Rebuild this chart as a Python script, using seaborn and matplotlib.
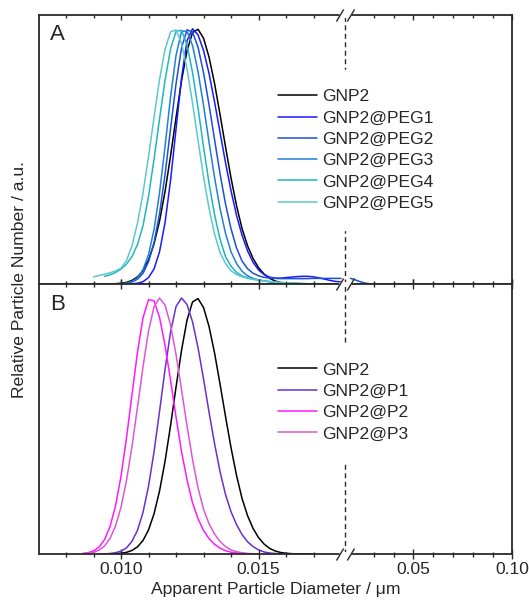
import matplotlib
matplotlib.use("Agg")
import matplotlib.pyplot as plt
import numpy as np
import pandas as pd
import seaborn as sns
from matplotlib.path import Path

nan = np.nan

# apparent particle diameter (um), shared by every curve left of the axis break
diameter = [
    0.0086, 0.0088, 0.0090, 0.0092, 0.0094, 0.0096, 0.0098, 0.0100,
    0.0102, 0.0104, 0.0106, 0.0108, 0.0110, 0.0112, 0.0114, 0.0116,
    0.0118, 0.0120, 0.0122, 0.0124, 0.0126, 0.0128, 0.0130, 0.0132,
    0.0134, 0.0136, 0.0138, 0.0140, 0.0142, 0.0144, 0.0146, 0.0148,
    0.0150, 0.0152, 0.0154, 0.0156, 0.0158, 0.0160, 0.0162, 0.0164,
    0.0166, 0.0168, 0.0170, 0.0172, 0.0174, 0.0176, 0.0178, 0.0180,
]

gnp2 = [
    nan, nan, nan, nan, 0.0, 0.0005, 0.0012, 0.003,
    0.0065, 0.014, 0.028, 0.053, 0.094, 0.157, 0.246, 0.362,
    0.501, 0.652, 0.796, 0.914, 0.985, 0.998, 0.963, 0.889,
    0.786, 0.664, 0.537, 0.415, 0.307, 0.217, 0.150, 0.100,
    0.064, 0.039, 0.022, 0.012, 0.006, 0.003, 0.0013, 0.0006,
    0.0002, 0.0, 0.0, nan, nan, nan, nan, nan,
]
peg1 = [
    nan, nan, nan, nan, nan, nan, nan, 0.0,
    0.0002, 0.001, 0.003, 0.009, 0.025, 0.059, 0.126, 0.240,
    0.405, 0.607, 0.807, 0.953, 1.0, 0.976, 0.915, 0.825,
    0.714, 0.594, 0.475, 0.365, 0.269, 0.191, 0.130, 0.085,
    0.055, 0.037, 0.027, 0.023, 0.023, 0.025, 0.027, 0.029,
    0.030, 0.030, 0.028, 0.024, 0.019, 0.014, 0.010, 0.008,
]
peg2 = [
    nan, nan, nan, nan, nan, nan, 0.0003, 0.001,
    0.003, 0.008, 0.019, 0.042, 0.087, 0.162, 0.275, 0.428,
    0.607, 0.784, 0.925, 0.996, 0.987, 0.928, 0.828, 0.702,
    0.566, 0.432, 0.313, 0.216, 0.141, 0.090, 0.060, 0.042,
    0.032, 0.026, 0.023, 0.022, 0.021, 0.021, 0.021, 0.021,
    0.021, 0.021, 0.022, 0.022, 0.022, 0.022, 0.022, 0.022,
]
peg3 = [
    nan, nan, nan, nan, nan, 0.0001, 0.0003, 0.001,
    0.003, 0.010, 0.024, 0.056, 0.115, 0.213, 0.357, 0.538,
    0.732, 0.896, 0.990, 0.991, 0.934, 0.832, 0.700, 0.556,
    0.418, 0.296, 0.198, 0.126, 0.080, 0.050, 0.032, 0.022,
    0.016, 0.012, 0.009, 0.007, 0.005, 0.004, 0.003, 0.002,
    0.001, 0.001, 0.0, nan, nan, nan, nan, nan,
]
peg4 = [
    nan, nan, nan, nan, 0.030, 0.036, 0.045, 0.058,
    0.078, 0.108, 0.155, 0.228, 0.344, 0.488, 0.646, 0.798,
    0.920, 0.990, 0.994, 0.936, 0.829, 0.689, 0.538, 0.395,
    0.272, 0.176, 0.107, 0.070, 0.045, 0.032, 0.024, 0.019,
    0.015, 0.012, 0.009, 0.007, 0.005, 0.004, 0.003, 0.002,
    0.001, 0.0, nan, nan, nan, nan, nan, nan,
]
peg5 = [
    nan, nan, 0.028, 0.033, 0.038, 0.044, 0.051, 0.062,
    0.092, 0.150, 0.239, 0.356, 0.499, 0.653, 0.801, 0.919,
    0.988, 0.995, 0.943, 0.843, 0.709, 0.562, 0.420, 0.296,
    0.196, 0.123, 0.080, 0.052, 0.037, 0.028, 0.022, 0.018,
    0.015, 0.012, 0.010, 0.008, 0.006, 0.005, 0.004, 0.003,
    0.002, 0.001, 0.0, nan, nan, nan, nan, nan,
]
p1 = [
    nan, nan, nan, 0.0002, 0.0007, 0.002, 0.005, 0.011,
    0.024, 0.050, 0.093, 0.163, 0.265, 0.399, 0.557, 0.721,
    0.867, 0.967, 1.0, 0.975, 0.907, 0.806, 0.684, 0.554,
    0.432, 0.322, 0.232, 0.165, 0.115, 0.076, 0.048, 0.029,
    0.016, 0.008, 0.004, 0.002, 0.001, 0.0, nan, nan,
    nan, nan, nan, nan, nan, nan, nan, nan,
]
p2 = [
    0.002, 0.005, 0.012, 0.027, 0.056, 0.107, 0.188, 0.304,
    0.454, 0.624, 0.790, 0.923, 0.994, 0.989, 0.925, 0.815,
    0.680, 0.535, 0.400, 0.290, 0.200, 0.138, 0.092, 0.060,
    0.038, 0.023, 0.013, 0.007, 0.004, 0.002, 0.001, 0.0,
    nan, nan, nan, nan, nan, nan, nan, nan,
    nan, nan, nan, nan, nan, nan, nan, nan,
]
p3 = [
    0.001, 0.003, 0.007, 0.015, 0.031, 0.061, 0.109, 0.183,
    0.288, 0.421, 0.575, 0.732, 0.871, 0.966, 1.0, 0.973,
    0.895, 0.780, 0.642, 0.500, 0.369, 0.258, 0.175, 0.118,
    0.078, 0.049, 0.029, 0.016, 0.009, 0.005, 0.002, 0.001,
    0.0, nan, nan, nan, nan, nan, nan, nan,
    nan, nan, nan, nan, nan, nan, nan, nan,
]

# GNP2@PEG2 continues on the right of the axis break
peg2_tail_diameter = [0.0183, 0.020, 0.022, 0.024, 0.026, 0.028, 0.030]
peg2_tail_intensity = [0.022, 0.018, 0.012, 0.007, 0.003, 0.001, 0.0]

labels_a = ["GNP2", "GNP2@PEG1", "GNP2@PEG2", "GNP2@PEG3", "GNP2@PEG4", "GNP2@PEG5"]
labels_b = ["GNP2", "GNP2@P1", "GNP2@P2", "GNP2@P3"]
colors_a = ["#000000", "#1a1aff", "#1f4fd8", "#1f80d4", "#1fb5c2", "#5ec8c8"]
colors_b = ["#000000", "#6a2fd0", "#ff1aff", "#e055d5"]

major_ticks = [0.010, 0.015, 0.05, 0.10]
major_labels = ["0.010", "0.015", "0.05", "0.10"]
minor_ticks = [0.008, 0.009, 0.011, 0.012, 0.013, 0.014, 0.016, 0.017,
               0.03, 0.04, 0.06, 0.07, 0.08, 0.09]

BREAK_LEFT = 0.01816   # last diameter drawn before the break
BREAK_RIGHT = 0.0157   # first diameter drawn after the break
RIGHT_FACTOR = 0.072   # compression of the part after the break
FS = 12.6
INK = "#2a2a2a"


def forward(x):
    x = np.asarray(x, dtype=float)
    return np.where(x <= BREAK_LEFT, x, BREAK_LEFT + (x - BREAK_RIGHT) * RIGHT_FACTOR)


def inverse(u):
    u = np.asarray(u, dtype=float)
    return np.where(u <= BREAK_LEFT, u, BREAK_RIGHT + (u - BREAK_LEFT) / RIGHT_FACTOR)


def long_frame(series, labels):
    frames = [
        pd.DataFrame({"diameter": diameter, "intensity": values,
                      "sample": label, "segment": "main"})
        for label, values in zip(labels, series)
    ]
    return pd.concat(frames, ignore_index=True)


df_a = long_frame([gnp2, peg1, peg2, peg3, peg4, peg5], labels_a)
df_a = pd.concat([
    df_a,
    pd.DataFrame({"diameter": peg2_tail_diameter, "intensity": peg2_tail_intensity,
                  "sample": "GNP2@PEG2", "segment": "tail"}),
], ignore_index=True)
df_b = long_frame([gnp2, p1, p2, p3], labels_b)

sns.set_theme(style="ticks")
plt.rcParams["font.family"] = ["Liberation Sans", "DejaVu Sans"]
plt.rcParams["axes.edgecolor"] = INK
plt.rcParams["axes.linewidth"] = 1.3

fig = plt.figure(figsize=(5.29, 6.05), dpi=100)
ax_a = fig.add_axes([0.0728, 0.5306, 0.8958, 0.4451])
ax_b = fig.add_axes([0.0728, 0.0843, 0.8958, 0.4463])

slashes = Path([(-1.5, -1), (-0.3, 1), (0.3, -1), (1.5, 1)],
               [Path.MOVETO, Path.LINETO, Path.MOVETO, Path.LINETO])

panels = [
    (ax_a, df_a, labels_a, colors_a, "A", (0.4645, 0.795)),
    (ax_b, df_b, labels_b, colors_b, "B", (0.4645, 0.781)),
]
for ax, df, labels, colors, letter, anchor in panels:
    sns.lineplot(data=df, x="diameter", y="intensity", hue="sample",
                 hue_order=labels, palette=colors, units="segment",
                 estimator=None, linewidth=1.1, ax=ax)
    ax.set_xscale("function", functions=(forward, inverse))
    ax.set_xlim(0.007, 0.10)
    ax.set_ylim(0, 1.055)
    ax.set_yticks([])
    ax.set_xticks(major_ticks)
    ax.set_xticks(minor_ticks, minor=True)
    ax.set_xlabel("")
    ax.set_ylabel("")
    ax.axvline(BREAK_LEFT, color=INK, linewidth=1.0,
               linestyle=(0, (3.6, 2.5)), zorder=1)
    ax.text(0.040, 0.925, letter, transform=ax.transAxes, fontsize=16,
            ha="center", va="center")
    sns.move_legend(ax, "upper left", bbox_to_anchor=anchor, title=None,
                    frameon=True, fontsize=FS, handlelength=2.23,
                    handletextpad=0.3, labelspacing=0.343, borderpad=1.1,
                    borderaxespad=0, framealpha=1, fancybox=False,
                    facecolor="white", edgecolor="white")

ax_a.tick_params(axis="x", which="both", direction="in", top=True,
                 bottom=True, labelbottom=False, color=INK, width=1.0)
ax_a.tick_params(axis="x", which="major", length=3.6)
ax_a.tick_params(axis="x", which="minor", length=2.5)
ax_b.tick_params(axis="x", which="both", direction="inout", top=True,
                 bottom=True, color=INK, width=1.0, labelsize=FS, pad=2.5)
ax_b.tick_params(axis="x", which="major", length=7.2)
ax_b.tick_params(axis="x", which="minor", length=3.6)
ax_b.set_xticklabels(major_labels)
ax_b.set_xlabel("Apparent Particle Diameter / \u03bcm", fontsize=FS, labelpad=3)

# axis-break marks: white gap in the spine plus two slashes
for ax, ys in ((ax_a, (1.0,)), (ax_b, (1.0, 0.0))):
    for y in ys:
        ax.plot([BREAK_LEFT], [y], transform=ax.get_xaxis_transform(),
                marker="_", markersize=9, markeredgewidth=3.5,
                color="white", clip_on=False, zorder=6)
        ax.plot([BREAK_LEFT], [y], transform=ax.get_xaxis_transform(),
                marker=slashes, markersize=13, markeredgewidth=1.0,
                markerfacecolor="none", color=INK, clip_on=False, zorder=7)
    ax.set_xlim(0.007, 0.10)
    ax.set_ylim(0, 1.055)

fig.text(0.036, 0.538, "Relative Particle Number / a.u.", rotation=90,
         ha="center", va="center", fontsize=FS)

fig.savefig("out.png", dpi=100)
